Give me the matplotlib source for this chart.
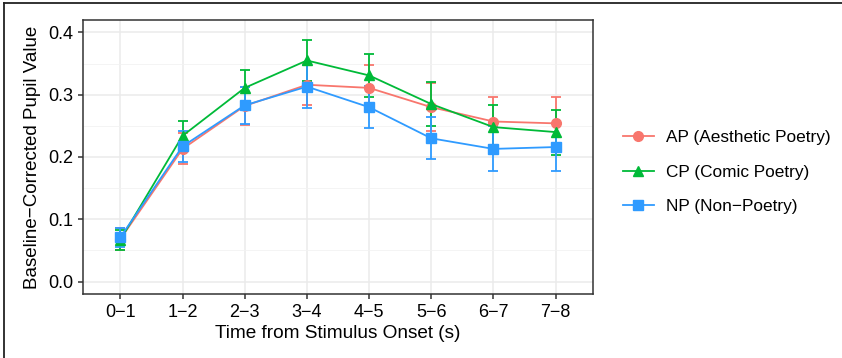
import matplotlib
matplotlib.use("Agg")
import matplotlib.pyplot as plt
from matplotlib.lines import Line2D
import numpy as np

plt.rcParams['font.family'] = ['Liberation Sans', 'DejaVu Sans']

categories = ["0\u22121", "1\u22122", "2\u22123", "3\u22124", "4\u22125", "5\u22126", "6\u22127", "7\u22128"]
ap_mean = [0.068, 0.213, 0.282, 0.316, 0.311, 0.280, 0.257, 0.254]
ap_se   = [0.018, 0.025, 0.030, 0.033, 0.036, 0.039, 0.040, 0.043]
cp_mean = [0.067, 0.234, 0.311, 0.355, 0.331, 0.285, 0.248, 0.240]
cp_se   = [0.016, 0.024, 0.028, 0.033, 0.035, 0.036, 0.035, 0.036]
np_mean = [0.071, 0.217, 0.283, 0.313, 0.280, 0.230, 0.213, 0.216]
np_se   = [0.015, 0.025, 0.030, 0.034, 0.034, 0.034, 0.036, 0.039]
series_names = ["AP (Aesthetic Poetry)", "CP (Comic Poetry)", "NP (Non\u2212Poetry)"]
colors = ["#F8766D", "#00BA38", "#2F9BFF"]
markers = ["o", "^", "s"]

W, H = 842, 358
fig = plt.figure(figsize=(W/100, H/100), dpi=100)
ax = fig.add_axes([83/W, 1-294/H, (593-83)/W, (294-20)/H])

x = np.arange(len(categories))
for m, s, c, mk in zip([ap_mean, cp_mean, np_mean], [ap_se, cp_se, np_se], colors, markers):
    ax.errorbar(x, m, yerr=s, color=c, lw=1.3, marker=mk, ms=7 if mk != "s" else 6.5,
                capsize=3.6, capthick=1.3, elinewidth=1.3, zorder=3)

ax.set_xlim(-0.6, 7.6)
ax.set_ylim(-0.02, 0.42)
ax.set_xticks(x)
ax.set_xticklabels(categories)
ax.set_yticks([0.0, 0.1, 0.2, 0.3, 0.4])
ax.set_yticks([0.05, 0.15, 0.25, 0.35], minor=True)
ax.grid(True, which='major', color='#EBEBEB', lw=1.1, zorder=0)
ax.grid(True, which='minor', axis='y', color='#F2F2F2', lw=0.6, zorder=0)
ax.set_axisbelow(True)
for sp in ax.spines.values():
    sp.set_color('#333333')
    sp.set_linewidth(1.1)
ax.tick_params(axis='both', which='major', labelsize=13, color='#333333', length=3.5, width=1.1, pad=3.5, labelcolor='black')
ax.tick_params(axis='y', which='minor', length=0)
ax.set_xlabel("Time from Stimulus Onset (s)", fontsize=13.7, labelpad=3)
ax.set_ylabel("Baseline\u2212Corrected Pupil Value", fontsize=13.5, labelpad=5)

handles = [Line2D([0], [0], color=c, marker=mk, lw=1.3, ms=7 if mk != "s" else 6.5) for c, mk in zip(colors, markers)]
fig.legend(handles, series_names, loc='center left', bbox_to_anchor=(607/W, 1-172/H),
           frameon=False, fontsize=12.4, handlelength=1.8, handletextpad=0.7, labelspacing=1.15)

# outer frame lines (left and top)
fig.add_artist(Line2D([4/W, 4/W], [0, 1-3/H], color='#222222', lw=1.3, transform=fig.transFigure))
fig.add_artist(Line2D([4/W, 1], [1-3/H, 1-3/H], color='#222222', lw=1.3, transform=fig.transFigure))

fig.savefig("out.png", dpi=100)
